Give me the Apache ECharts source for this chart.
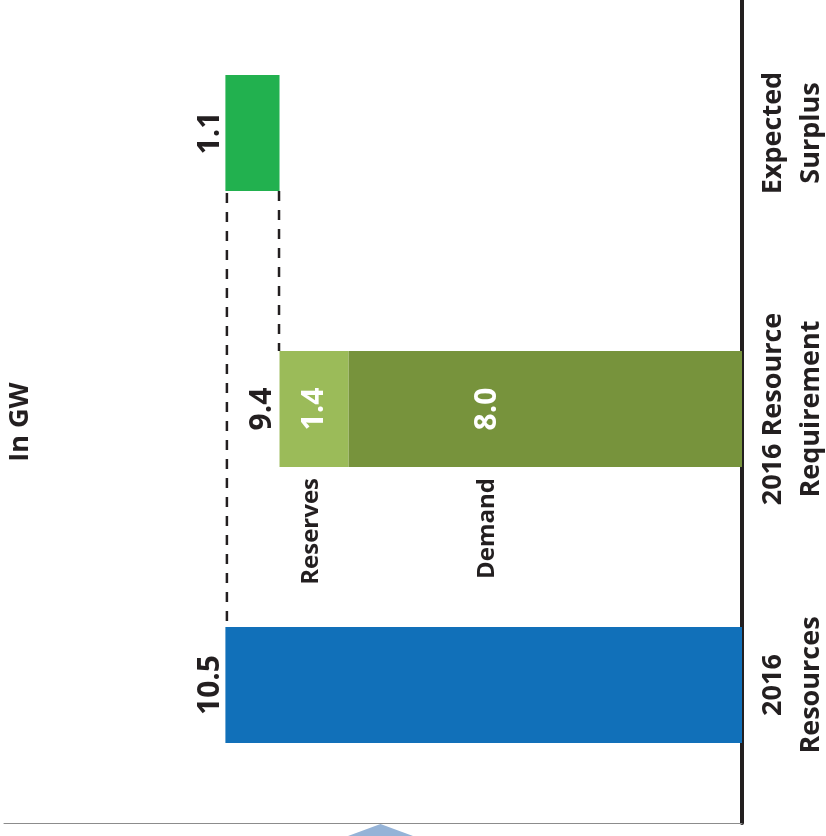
<!DOCTYPE html>
<html>
<head>
<meta charset="utf-8">
<script src="https://cdn.jsdelivr.net/npm/echarts@6/dist/echarts.min.js"></script>
<style>
  html, body { margin: 0; padding: 0; background: #ffffff; }
  #chart { width: 826px; height: 836px; }
</style>
</head>
<body>
<div id="chart"></div>
<script>
// Categories, bottom to top on the (rotated) category axis
const categories = ['2016\nResources', '2016 Resource\nRequirement', 'Expected\nSurplus'];

// Values in GW
const resources = [10.5, null, null];
const demand    = [null, 8.0, null];
const reserves  = [null, 1.4, null];
const surplus   = [null, null, 1.1];

const segmentNames = { demand: 'Demand', reserves: 'Reserves' };
const unitLabel = 'In GW';

// Requirement total = demand + reserves; the surplus floats on top of it
const requirementTotal = Math.round((demand[1] + reserves[1]) * 10) / 10;
const surplusBase = [null, null, requirementTotal];

const FONT = '"Open Sans", "Noto Sans", sans-serif';
const INK = '#231f20';
const BAR_W = 116;
const VALUE_SIZE = 30;

const fmt = p => Number(p.value).toFixed(1);

const outsideLabel = {
  show: true, position: 'left', rotate: 90, align: 'center', verticalAlign: 'bottom',
  distance: 0, fontFamily: FONT, fontWeight: 'bold', fontSize: VALUE_SIZE, color: INK, formatter: fmt
};
const insideLabel = {
  show: true, position: 'inside', rotate: 90,
  fontFamily: FONT, fontWeight: 'bold', fontSize: VALUE_SIZE, color: '#ffffff', formatter: fmt
};
// the demand value sits toward the left part of its segment (offset is in the rotated frame)
const DEMAND_LABEL_SHIFT = 58;

const chart = echarts.init(document.getElementById('chart'), null, { renderer: 'canvas' });

chart.setOption({
  animation: false,
  backgroundColor: '#ffffff',
  // the top band runs slightly past the top edge of the canvas
  grid: { left: 4, right: 84, top: -5, bottom: 13, containLabel: false, outerBoundsMode: 'none' },
  xAxis: {
    type: 'value', inverse: true, min: 0, max: 15,
    axisLine: { show: true, lineStyle: { color: '#8c8c8c', width: 1 } },
    axisTick: { show: false }, axisLabel: { show: false }, splitLine: { show: false }
  },
  yAxis: {
    type: 'category', position: 'right', data: categories,
    axisLine: { show: true, lineStyle: { color: INK, width: 4 } },
    axisTick: { show: false },
    axisLabel: {
      rotate: 90, margin: 12, fontFamily: FONT, fontWeight: 'bold', fontSize: 27,
      lineHeight: 38, color: INK
    }
  },
  series: [
    { name: 'Resources', type: 'bar', stack: 'w', barWidth: BAR_W, data: resources,
      itemStyle: { color: '#1170b9' }, label: outsideLabel },
    { name: segmentNames.demand, type: 'bar', stack: 'w', barWidth: BAR_W, data: demand,
      itemStyle: { color: '#77933c' },
      label: Object.assign({}, insideLabel, { offset: [0, -DEMAND_LABEL_SHIFT] }) },
    { name: segmentNames.reserves, type: 'bar', stack: 'w', barWidth: BAR_W, data: reserves,
      itemStyle: { color: '#9bbb59' }, label: insideLabel },
    { name: 'base', type: 'bar', stack: 'w', barWidth: BAR_W, data: surplusBase,
      itemStyle: { color: 'transparent' }, silent: true },
    { name: 'Expected Surplus', type: 'bar', stack: 'w', barWidth: BAR_W, data: surplus,
      itemStyle: { color: '#22b14f' }, label: outsideLabel }
  ]
});

// Connectors, requirement total and segment captions, placed through the chart's scales
const toPx = (v, c) => chart.convertToPixel({ gridIndex: 0 }, [v, c]);
const half = BAR_W / 2;

const pRes = toPx(resources[0], 0);
const pReq = toPx(requirementTotal, 1);
const pSur = toPx(requirementTotal + surplus[2], 2);
const pZero = toPx(0, 1);
const pDem = toPx(demand[1], 1);

const surBottom = pSur[1] + half;
const reqTop = pReq[1] - half;
const resTop = pRes[1] - half;
const reqBottom = pReq[1] + half;

const dash = { stroke: INK, lineWidth: 2.5, lineDash: [10, 9] };
const demandCenterX = (pZero[0] + pDem[0]) / 2 - DEMAND_LABEL_SHIFT;
const reservesCenterX = (pDem[0] + pReq[0]) / 2 - 3;

const captionStyle = (text) => ({
  text, fill: INK, font: 'bold 24px ' + FONT, align: 'right', verticalAlign: 'middle'
});

chart.setOption({
  graphic: [
    { type: 'line', shape: { x1: pRes[0] + 1.5, y1: surBottom + 2, x2: pRes[0] + 1.5, y2: resTop - 6 }, style: dash, silent: true },
    { type: 'line', shape: { x1: pReq[0] - 0.5, y1: surBottom, x2: pReq[0] - 0.5, y2: reqTop }, style: dash, silent: true },
    { type: 'text', x: pReq[0] - 2, y: pReq[1], rotation: Math.PI / 2,
      style: { text: requirementTotal.toFixed(1), fill: INK, font: 'bold ' + VALUE_SIZE + 'px ' + FONT,
               align: 'center', verticalAlign: 'bottom' }, silent: true },
    { type: 'text', x: reservesCenterX, y: reqBottom + 11, rotation: Math.PI / 2,
      style: captionStyle(segmentNames.reserves), silent: true },
    { type: 'text', x: demandCenterX, y: reqBottom + 11, rotation: Math.PI / 2,
      style: captionStyle(segmentNames.demand), silent: true },
    { type: 'text', x: 20, y: 422, rotation: Math.PI / 2,
      style: { text: unitLabel, fill: INK, font: 'bold 27px ' + FONT, align: 'center', verticalAlign: 'middle' }, silent: true },
    { type: 'polygon', shape: { points: [[348, 836], [380.5, 824], [413, 836]] },
      style: { fill: '#95b3d7' }, silent: true }
  ]
});
</script>
</body>
</html>
